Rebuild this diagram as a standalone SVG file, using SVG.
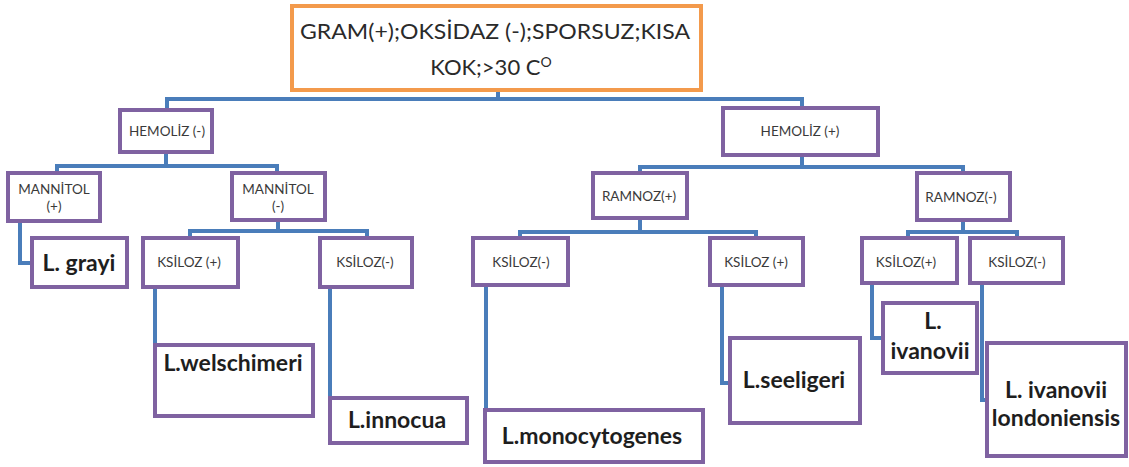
<svg xmlns="http://www.w3.org/2000/svg" width="1129" height="467" viewBox="0 0 1129 467">
<style>
.bx{fill:#fff;stroke:#7f62a1;stroke-width:4}
.top{fill:#fff;stroke:#f39a4c;stroke-width:4}
.cn{fill:none;stroke:#4a7dba;stroke-width:4}
.s{font-family:Lato,"Liberation Sans",sans-serif;font-size:13.5px;fill:#3a3a3a;text-anchor:middle}
.b{font-family:Lato,"Liberation Sans",sans-serif;font-size:23px;font-weight:bold;fill:#1e1e1e;text-anchor:middle}
.t{font-family:Lato,"Liberation Sans",sans-serif;font-size:22px;fill:#2a2a2a;text-anchor:middle}
</style>
<rect width="1129" height="467" fill="#fff"/>
<g id="connectors">
<path class="cn" d="M498,90 V99 M167,110 V99 H802 V108"/>
<path class="cn" d="M166,152 V166 M57,173 V166 H277 V173"/>
<path class="cn" d="M278,220 V231 M190,238 V231 H367 V238"/>
<path class="cn" d="M20,221 V263 H32"/>
<path class="cn" d="M155,287 V380"/>
<path class="cn" d="M330,287 V403"/>
<path class="cn" d="M802,155 V167 M640,173 V167 H963 V173"/>
<path class="cn" d="M640,218 V232 M520,238 V232 H756 V238"/>
<path class="cn" d="M963,220 V232 M908,238 V232 H1017 V238"/>
<path class="cn" d="M486,285 V410"/>
<path class="cn" d="M722,285 V383 H730"/>
<path class="cn" d="M872,283 V338 H883"/>
<path class="cn" d="M982,283 V400 H987"/>
</g>
<g id="root">
<rect class="top" x="292" y="6" width="409" height="84"/>
<text class="t" x="495" y="39" textLength="390" lengthAdjust="spacingAndGlyphs">GRAM(+);OKSİDAZ (-);SPORSUZ;KISA</text>
<text class="t" x="491" y="75">KOK;&gt;30 C<tspan font-size="14" dy="-8">O</tspan></text>
</g>
<g id="hemolizN"><rect class="bx" x="120" y="110" width="92" height="42"/><text class="s" x="167" y="136">HEMOLİZ (-)</text></g>
<g id="hemolizP"><rect class="bx" x="723" y="108" width="155" height="47"/><text class="s" x="800" y="136">HEMOLİZ (+)</text></g>
<g id="mannitolP"><rect class="bx" x="8" y="173" width="92" height="48"/><text class="s" x="54" y="194">MANNİTOL</text><text class="s" x="54" y="211">(+)</text></g>
<g id="mannitolN"><rect class="bx" x="232" y="173" width="93" height="47"/><text class="s" x="278" y="194">MANNİTOL</text><text class="s" x="278" y="211">(-)</text></g>
<g id="ramnozP"><rect class="bx" x="593" y="173" width="94" height="45"/><text class="s" x="639" y="201">RAMNOZ(+)</text></g>
<g id="ramnozN"><rect class="bx" x="917" y="173" width="93" height="47"/><text class="s" x="961" y="202">RAMNOZ(-)</text></g>
<g id="ksilozP1"><rect class="bx" x="143" y="238" width="95" height="49"/><text class="s" x="189" y="267">KSİLOZ (+)</text></g>
<g id="ksilozN1"><rect class="bx" x="320" y="238" width="92" height="49"/><text class="s" x="365" y="267">KSİLOZ(-)</text></g>
<g id="ksilozN2"><rect class="bx" x="473" y="238" width="95" height="47"/><text class="s" x="521" y="267">KSİLOZ(-)</text></g>
<g id="ksilozP2"><rect class="bx" x="710" y="238" width="93" height="47"/><text class="s" x="756" y="267">KSİLOZ (+)</text></g>
<g id="ksilozP3"><rect class="bx" x="862" y="238" width="95" height="45"/><text class="s" x="906" y="267">KSİLOZ(+)</text></g>
<g id="ksilozN3"><rect class="bx" x="970" y="238" width="93" height="45"/><text class="s" x="1017" y="267">KSİLOZ(-)</text></g>
<g id="grayi"><rect class="bx" x="32" y="238" width="95" height="49"/><text class="b" x="79" y="271">L. grayi</text></g>
<g id="welschimeri"><rect class="bx" x="155" y="345" width="158" height="71"/><text class="b" x="233" y="371">L.welschimeri</text></g>
<g id="innocua"><rect class="bx" x="330" y="398" width="137" height="45"/><text class="b" x="397" y="428">L.innocua</text></g>
<g id="monocytogenes"><rect class="bx" x="485" y="410" width="218" height="52"/><text class="b" x="592" y="444">L.monocytogenes</text></g>
<g id="seeligeri"><rect class="bx" x="730" y="338" width="130" height="85"/><text class="b" x="794" y="388">L.seeligeri</text></g>
<g id="ivanovii"><rect class="bx" x="883" y="303" width="94" height="70"/><text class="b" x="933" y="329">L.</text><text class="b" x="930" y="359">ivanovii</text></g>
<g id="londoniensis"><rect class="bx" x="987" y="343" width="139" height="113"/><text class="b" x="1056" y="398">L. ivanovii</text><text class="b" x="1056" y="426">londoniensis</text></g>
</svg>
